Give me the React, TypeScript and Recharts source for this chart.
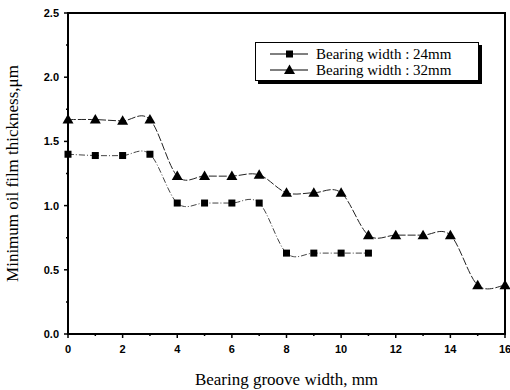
import React from "react";
import { LineChart, Line, XAxis, YAxis } from "recharts";

const grooveWidth = [0, 1, 2, 3, 4, 5, 6, 7, 8, 9, 10, 11, 12, 13, 14, 15, 16];
const width24 = [1.4, 1.39, 1.39, 1.4, 1.02, 1.02, 1.02, 1.02, 0.63, 0.63, 0.63, 0.63];
const width32 = [
  1.67, 1.67, 1.66, 1.67, 1.23, 1.23, 1.23, 1.24, 1.1, 1.1, 1.1, 0.77, 0.77, 0.77,
  0.77, 0.38, 0.38,
];
const xTicks = grooveWidth;
const yTicks = [0, 0.25, 0.5, 0.75, 1, 1.25, 1.5, 1.75, 2, 2.25, 2.5];
const legendLabels = ["Bearing width : 24mm", "Bearing width : 32mm"];

const CHART_W = 510;
const CHART_H = 390;
const RIGHT = 5;

const data = grooveWidth.map((g, i) => ({
  g,
  w24: width24[i],
  w32: width32[i],
}));

// catmull-rom style spline, like origin's spline connect
const spline: any = (context: any) => {
  let pts: number[][] = [];
  return {
    areaStart() {},
    areaEnd() {},
    lineStart() {
      pts = [];
    },
    lineEnd() {
      if (!pts.length) return;
      context.moveTo(pts[0][0], pts[0][1]);
      for (let i = 0; i < pts.length - 1; i++) {
        const p0 = pts[i - 1] || pts[i];
        const p1 = pts[i];
        const p2 = pts[i + 1];
        const p3 = pts[i + 2] || p2;
        context.bezierCurveTo(
          p1[0] + (p2[0] - p0[0]) / 6,
          p1[1] + (p2[1] - p0[1]) / 6,
          p2[0] - (p3[0] - p1[0]) / 6,
          p2[1] - (p3[1] - p1[1]) / 6,
          p2[0],
          p2[1]
        );
      }
    },
    point(x: number, y: number) {
      pts.push([+x, +y]);
    },
  };
};

const Square = (props: any) => {
  const { cx, cy } = props;
  if (cx == null || cy == null || props.value == null) return null;
  return <rect x={cx - 3.5} y={cy - 3.5} width={7} height={7} fill="#000" />;
};

const Triangle = (props: any) => {
  const { cx, cy } = props;
  if (cx == null || cy == null || props.value == null) return null;
  return (
    <polygon
      points={`${cx},${cy - 5.5} ${cx - 5.5},${cy + 4} ${cx + 5.5},${cy + 4}`}
      fill="#000"
    />
  );
};

const XTick = (props: any) => {
  const { x, y, payload } = props;
  const major = payload.value % 2 === 0;
  return (
    <g>
      <line x1={x} x2={x} y1={y} y2={y + (major ? 4 : 2)} stroke="#000" strokeWidth={1.5} />
      {major && (
        <text
          x={x}
          y={y + 19}
          textAnchor="middle"
          fontFamily="Liberation Sans, Arial, sans-serif"
          fontWeight="bold"
          fontSize={11}
          fill="#000"
        >
          {payload.value}
        </text>
      )}
    </g>
  );
};

const YTick = (props: any) => {
  const { x, y, payload } = props;
  const major = Math.abs((payload.value * 2) % 1) < 1e-6;
  return (
    <g>
      <line x1={x} x2={x - (major ? 4 : 2)} y1={y} y2={y} stroke="#000" strokeWidth={1.5} />
      {major && (
        <text
          x={x - 9}
          y={y + 4}
          textAnchor="end"
          fontFamily="Liberation Sans, Arial, sans-serif"
          fontWeight="bold"
          fontSize={11}
          fill="#000"
        >
          {payload.value.toFixed(1)}
        </text>
      )}
    </g>
  );
};

// y title plus the plot frame, drawn from the y axis' own viewBox
const YLabel = (props: any) => {
  const vb = props.viewBox || { x: 0, y: 13, width: 68, height: 321 };
  const left = vb.x + vb.width;
  const top = vb.y;
  const plotW = CHART_W - RIGHT - left;
  const cy = top + vb.height / 2;
  return (
    <g>
      <rect
        x={left}
        y={top}
        width={plotW}
        height={vb.height}
        fill="none"
        stroke="#000"
        strokeWidth={2}
      />
      <text
        x={18}
        y={cy}
        transform={`rotate(-90 18 ${cy})`}
        textAnchor="middle"
        fontFamily="Liberation Serif, Times New Roman, serif"
        fontSize={17}
        fill="#000"
      >
        Minimum oil film thickness,μm
      </text>
    </g>
  );
};

const LegendBox = () => (
  <div
    style={{
      position: "absolute",
      left: 255,
      top: 42,
      width: 224,
      height: 39,
      border: "1px solid #000",
      boxShadow: "3px 3px 0 #000",
      background: "#fff",
      fontFamily: "Liberation Serif, Times New Roman, serif",
      fontSize: 15,
      lineHeight: "16px",
      paddingTop: 3,
      boxSizing: "border-box",
    }}
  >
    {legendLabels.map((label, i) => (
      <div key={label} style={{ display: "flex", alignItems: "center", height: 16 }}>
        <svg width={60} height={14} style={{ flex: "none" }}>
          <line x1={14} x2={52} y1={7} y2={7} stroke="#000" strokeWidth={1} />
          {i === 0 ? (
            <rect x={30} y={3.5} width={7} height={7} fill="#000" />
          ) : (
            <polygon points="33.5,1.5 28,11 39,11" fill="#000" />
          )}
        </svg>
        <span>{label}</span>
      </div>
    ))}
  </div>
);

export default function App() {
  return (
    <div style={{ position: "relative", width: CHART_W, height: CHART_H }}>
      <style>{"body{margin:0;overflow:hidden}"}</style>
      <LineChart
        width={CHART_W}
        height={CHART_H}
        data={data}
        margin={{ top: 13, right: RIGHT, left: 0, bottom: 0 }}
      >
        <XAxis
          dataKey="g"
          type="number"
          domain={[0, 16]}
          ticks={xTicks}
          interval={0}
          tickSize={0}
          tickMargin={0}
          tickLine={false}
          tick={<XTick />}
          height={56}
          axisLine={false}
          label={{
            value: "Bearing groove width, mm",
            position: "insideBottom",
            offset: 5,
            fill: "#000",
            fontSize: 17,
            fontFamily: "Liberation Serif, Times New Roman, serif",
          }}
        />
        <YAxis
          type="number"
          domain={[0, 2.5]}
          ticks={yTicks}
          interval={0}
          tickSize={0}
          tickMargin={0}
          tickLine={false}
          tick={<YTick />}
          width={68}
          axisLine={false}
          label={{ content: (p: any) => <YLabel {...p} /> }}
        />
        <Line
          dataKey="w24"
          name={legendLabels[0]}
          type={spline}
          stroke="#444"
          strokeWidth={1}
          strokeDasharray="6 2 1 2"
          dot={<Square />}
          activeDot={false}
          isAnimationActive={false}
        />
        <Line
          dataKey="w32"
          name={legendLabels[1]}
          type={spline}
          stroke="#222"
          strokeWidth={1}
          strokeDasharray="8 2"
          dot={<Triangle />}
          activeDot={false}
          isAnimationActive={false}
        />
      </LineChart>
      <LegendBox />
    </div>
  );
}
